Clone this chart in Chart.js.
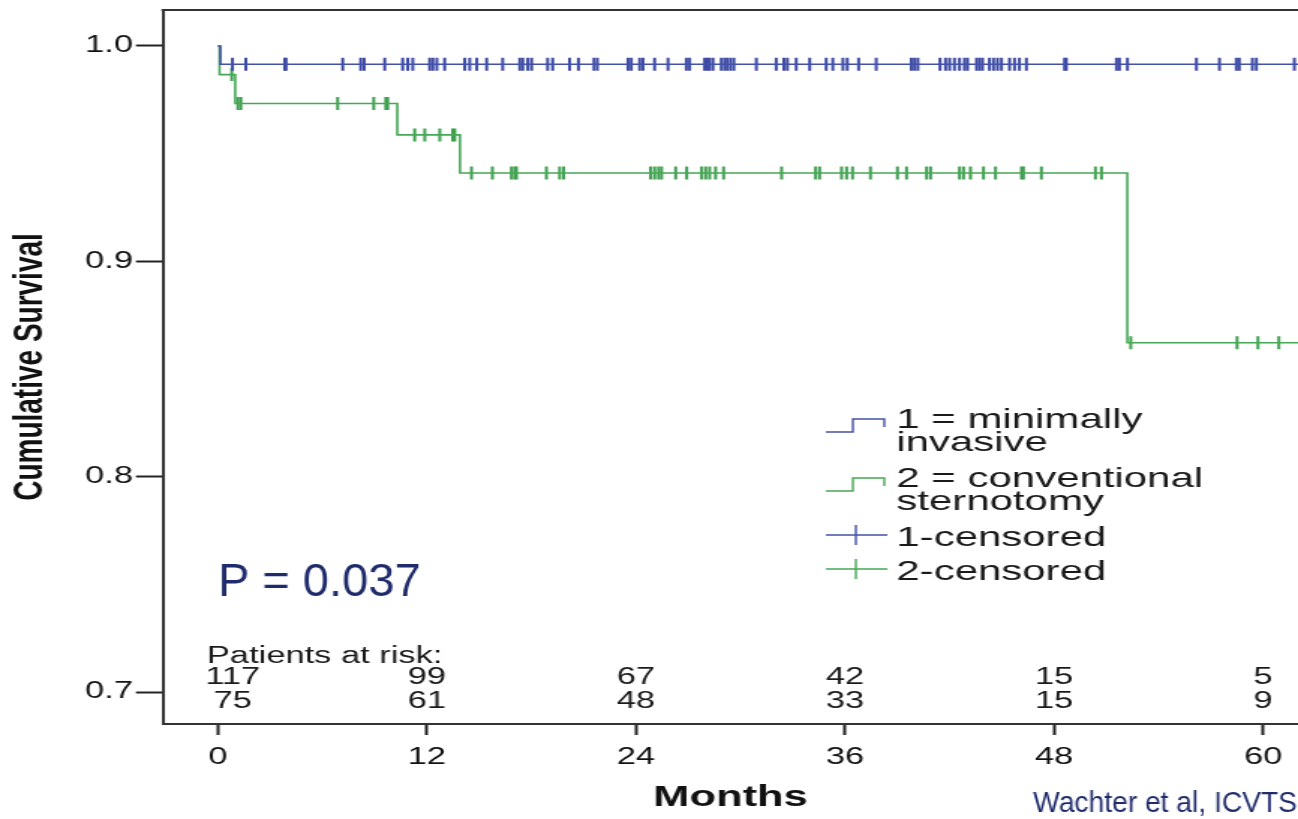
<!DOCTYPE html>
<html>
<head>
<meta charset="utf-8">
<title>Cumulative Survival</title>
<script src="https://cdn.jsdelivr.net/npm/chart.js@4.4.1/dist/chart.umd.min.js"></script>
<style>
  html, body { margin: 0; padding: 0; background: #fff; overflow: hidden; }
</style>
</head>
<body>
<!-- the source figure is stretched sideways, so the chart is drawn narrow and widened by css -->
<canvas id="km" width="866" height="819" style="width:1298px;height:819px;display:block"></canvas>
<script>
const STRETCH = 1298 / 866;

const xTicks = [0, 12, 24, 36, 48, 60];
const yTicks = [0.7, 0.8, 0.9, 1.0];

// survival curve steps (months, cumulative survival)
const minimalTimes = [0, 0.15, 62];
const minimalSurv = [1.0, 0.9915, 0.9915];
const conventionalTimes = [0, 0.1, 1.0, 10.3, 13.9, 52.2, 62];
const conventionalSurv = [1.0, 0.9867, 0.9733, 0.9587, 0.941, 0.8622, 0.8622];

// censored patients (months)
const minimalCensored = [0.84, 1.61, 3.84, 3.92, 7.17, 8.2, 8.4, 9.58, 10.61, 10.9, 11.19,
  12.16, 12.34, 12.57, 13.02, 14.17, 14.46, 14.86, 15.43, 16.35, 17.33, 17.5, 17.79, 18.01,
  18.93, 19.22, 20.19, 20.7, 21.59, 21.78, 23.54, 23.73, 24.21, 24.4, 25.07, 25.84, 26.89,
  27.08, 27.94, 28.1, 28.23, 28.42, 28.9, 29.09, 29.24, 29.43, 29.62, 30.91, 32.05, 32.49,
  32.69, 33.2, 33.97, 34.92, 35.3, 35.88, 36.13, 36.78, 37.79, 39.8, 39.99, 40.18, 41.45,
  41.77, 42.0, 42.28, 42.57, 42.86, 43.03, 43.55, 43.72, 43.89, 44.29, 44.52, 44.75, 44.98,
  45.44, 45.73, 46.01, 46.41, 48.6, 48.7, 51.58, 51.75, 52.21, 56.17, 57.49, 58.46, 58.63,
  59.38, 59.61, 61.79];
const conventionalCensored = [0.8, 1.15, 1.32, 6.88, 8.95, 9.64, 9.75, 11.3, 11.88, 12.74,
  13.48, 13.6, 14.56, 15.76, 16.85, 17.04, 17.14, 18.86, 19.62, 19.85, 24.84, 25.07, 25.3,
  25.47, 26.28, 26.91, 27.77, 28.0, 28.23, 28.57, 29.03, 32.36, 34.31, 34.54, 35.8, 36.09,
  36.43, 37.46, 39.01, 39.53, 40.68, 40.91, 42.57, 42.8, 43.2, 43.95, 44.64, 46.13, 46.24,
  47.27, 50.37, 50.72, 52.4, 58.5, 59.7, 60.9];

// patients at risk table
const riskMonths = [0, 12, 24, 36, 48, 60];
const riskMinimal = [117, 99, 67, 42, 15, 5];
const riskConventional = [75, 61, 48, 33, 15, 9];

const BLUE = '#4451a8';
const GREEN = '#45a855';
const FONT = '"Liberation Sans", Arial, sans-serif';

Chart.defaults.font.family = FONT;

// survival value of a step curve at time t
function survAt(times, surv, t) {
  let s = surv[0];
  for (let i = 0; i < times.length; i++) {
    if (times[i] <= t) s = surv[i];
  }
  return s;
}

function curve(times, surv) {
  return times.map((t, i) => ({ x: t, y: surv[i] }));
}

function censorPoints(list, times, surv) {
  return list.map(t => ({ x: t, y: survAt(times, surv, t) }));
}

// text that sits on the slide and is not stretched
function plainText(ctx, text, xScreen, y, font, color, align, squeeze) {
  ctx.save();
  ctx.scale(1 / STRETCH, 1);
  ctx.font = font;
  ctx.fillStyle = color;
  ctx.textAlign = align;
  ctx.textBaseline = 'alphabetic';
  ctx.translate(xScreen, 0);
  ctx.scale(squeeze || 1, 1);
  ctx.fillText(text, 0, y);
  ctx.restore();
}

const overlay = {
  id: 'overlay',
  afterDraw(chart) {
    const ctx = chart.ctx;
    const area = chart.chartArea;
    const xs = chart.scales.x;
    ctx.save();

    // top frame line
    ctx.strokeStyle = '#333';
    ctx.lineWidth = 2;
    ctx.beginPath();
    ctx.moveTo(area.left - 1, area.top);
    ctx.lineTo(chart.width, area.top);
    ctx.stroke();

    // legend
    const symA = 551, symB = 569, symC = 590, textX = 598;
    const items = [
      { lines: ['1 = minimally', 'invasive'], base: 428, color: BLUE, censor: false },
      { lines: ['2 = conventional', 'sternotomy'], base: 487, color: GREEN, censor: false },
      { lines: ['1-censored'], base: 546, color: BLUE, censor: true },
      { lines: ['2-censored'], base: 580, color: GREEN, censor: true }
    ];
    items.forEach(it => {
      ctx.strokeStyle = it.color;
      ctx.lineWidth = 1.4;
      ctx.beginPath();
      if (it.censor) {
        ctx.moveTo(symA, it.base - 11);
        ctx.lineTo(symC + 2, it.base - 11);
        ctx.moveTo(symB + 2, it.base - 21);
        ctx.lineTo(symB + 2, it.base - 1);
      } else {
        ctx.moveTo(symA, it.base + 4);
        ctx.lineTo(symB, it.base + 4);
        ctx.lineTo(symB, it.base - 9);
        ctx.lineTo(symC, it.base - 9);
        ctx.lineTo(symC, it.base - 1);
      }
      ctx.stroke();
      ctx.font = '28px ' + FONT;
      ctx.fillStyle = '#1a1a1a';
      ctx.textAlign = 'left';
      ctx.textBaseline = 'alphabetic';
      it.lines.forEach((ln, k) => ctx.fillText(ln, textX, it.base + k * 23));
    });

    // patients at risk
    ctx.font = '23px ' + FONT;
    ctx.fillStyle = '#1a1a1a';
    ctx.textAlign = 'left';
    ctx.fillText('Patients at risk:', 138, 663);
    ctx.textAlign = 'center';
    riskMonths.forEach((m, i) => {
      const px = xs.getPixelForValue(m) + (i === 0 ? 10 : 0);
      ctx.fillText(String(riskMinimal[i]), px, 684);
      ctx.fillText(String(riskConventional[i]), px, 708);
    });
    ctx.restore();

    // slide annotations
    plainText(ctx, 'P = 0.037', 218, 596, '47px ' + FONT, '#1f2b6b', 'left');
    plainText(ctx, 'Wachter et al, ICVTS', 1297, 812, '30px ' + FONT, '#1f2b6b', 'right', 0.94);
  }
};

new Chart(document.getElementById('km'), {
  type: 'scatter',
  data: {
    datasets: [
      {
        label: '1 = minimally invasive',
        data: curve(minimalTimes, minimalSurv),
        showLine: true,
        stepped: 'before',
        borderColor: BLUE,
        borderWidth: 1.6,
        pointRadius: 0
      },
      {
        label: '2 = conventional sternotomy',
        data: curve(conventionalTimes, conventionalSurv),
        showLine: true,
        stepped: 'before',
        borderColor: GREEN,
        borderWidth: 1.6,
        pointRadius: 0
      },
      {
        label: '1-censored',
        data: censorPoints(minimalCensored, minimalTimes, minimalSurv),
        showLine: false,
        pointStyle: 'line',
        pointRotation: 90,
        pointRadius: 6.5,
        pointBorderWidth: 2,
        pointBorderColor: '#3d4aa3',
        pointBackgroundColor: '#3d4aa3'
      },
      {
        label: '2-censored',
        data: censorPoints(conventionalCensored, conventionalTimes, conventionalSurv),
        showLine: false,
        pointStyle: 'line',
        pointRotation: 90,
        pointRadius: 6.5,
        pointBorderWidth: 2,
        pointBorderColor: '#3f9f4f',
        pointBackgroundColor: '#3f9f4f'
      }
    ]
  },
  options: {
    responsive: false,
    animation: false,
    layout: { autoPadding: false, padding: { top: 10, left: 0, right: 0, bottom: 0 } },
    plugins: {
      legend: { display: false },
      tooltip: { enabled: false }
    },
    scales: {
      x: {
        type: 'linear',
        min: -3.15,
        max: 62,
        afterBuildTicks: s => { s.ticks = xTicks.map(v => ({ value: v })); },
        afterFit: s => { s.height = 95; s.paddingLeft = 0; s.paddingRight = 0; },
        grid: { drawOnChartArea: false, drawTicks: true, tickLength: 11, tickWidth: 2, tickColor: '#222' },
        border: { color: '#333', width: 2 },
        ticks: { color: '#111', font: { size: 23 }, padding: 9, maxRotation: 0 },
        title: {
          display: true,
          text: 'Months',
          color: '#111',
          font: { size: 29, weight: 'bold' },
          padding: { top: 0, bottom: 4 }
        }
      },
      y: {
        type: 'linear',
        min: 0.6852,
        max: 1.0167,
        afterBuildTicks: s => { s.ticks = yTicks.map(v => ({ value: v })); },
        afterFit: s => { s.width = 108.7; s.paddingTop = 0; s.paddingBottom = 0; },
        grid: { drawOnChartArea: false, drawTicks: true, tickLength: 18, tickWidth: 2, tickColor: '#222' },
        border: { color: '#333', width: 2 },
        ticks: { color: '#111', font: { size: 23 }, padding: 2, callback: v => v.toFixed(1) },
        title: {
          display: true,
          text: 'Cumulative Survival',
          color: '#111',
          font: { size: 28, weight: 'bold' },
          padding: { top: 3, bottom: 0 }
        }
      }
    }
  },
  plugins: [overlay]
});
</script>
</body>
</html>
